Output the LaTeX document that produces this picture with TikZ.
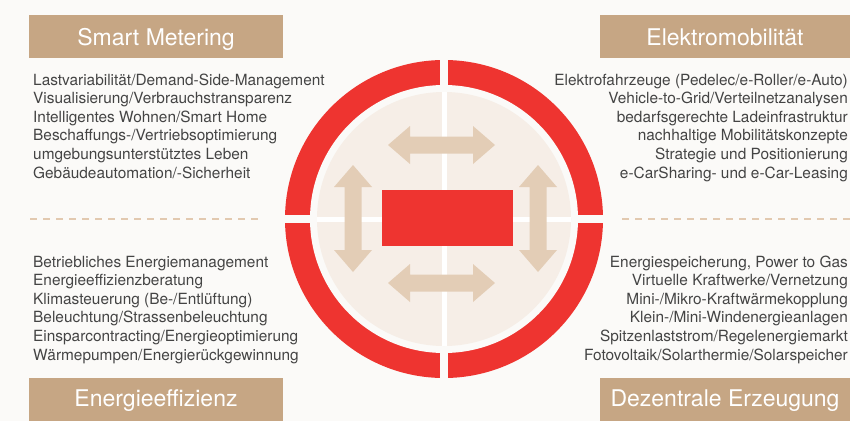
\documentclass[tikz,border=0pt]{standalone}
\usepackage{fontspec}
\setmainfont{TeX Gyre Heros}
\definecolor{bg}{HTML}{FBFAF8}
\definecolor{ringred}{HTML}{EE3430}
\definecolor{boxtan}{HTML}{C6A684}
\definecolor{arrowtan}{HTML}{E3CDB6}
\definecolor{disc}{HTML}{F6EEE7}
\definecolor{txt}{HTML}{444444}
\definecolor{dashtan}{HTML}{E2C9B0}
\begin{document}
\begin{tikzpicture}[x=1pt,y=-1pt,
  hdrbox/.style={fill=boxtan, draw=none},
  hdrtext/.style={text=white, font=\fontsize{23}{27}\selectfont, inner sep=0pt, anchor=base},
  bodyl/.style={text=txt, font=\fontsize{15.4}{18.6}\selectfont, inner sep=0pt, anchor=base west},
  bodyr/.style={text=txt, font=\fontsize{15.4}{18.6}\selectfont, inner sep=0pt, anchor=base east},
  sep/.style={draw=dashtan, line width=1.2pt, dash pattern=on 7pt off 6pt},
  dblarrow/.pic={\fill[arrowtan] (-53.5,0) -- (-31.5,-19) -- (-31.5,-8.5) -- (31.5,-8.5) -- (31.5,-19) -- (53.5,0) -- (31.5,19) -- (31.5,8.5) -- (-31.5,8.5) -- (-31.5,19) -- cycle;}
]
\useasboundingbox (0,0) rectangle (850,421);
\fill[bg] (0,0) rectangle (850,421);

% header boxes
\fill[hdrbox] (29,15) rectangle (283,58);
\fill[hdrbox] (600,15) rectangle (850,58);
\fill[hdrbox] (29,378) rectangle (283,421);
\fill[hdrbox] (600,378) rectangle (850,421);
\node[hdrtext] (hsm) at (156,45) {Smart Metering};
\node[hdrtext] (hem) at (725,45) {Elektromobilität};
\node[hdrtext] (hee) at (156,406) {Energieeffizienz};
\node[hdrtext] (hde) at (725,406) {Dezentrale Erzeugung};

% dashed separators
\draw[sep] (30,219) -- (260,219);
\draw[sep] (622,219) -- (850,219);

% text lists
\foreach \t [count=\i] in {{Lastvariabilität/Demand-Side-Management},{Visualisierung/Verbrauchstransparenz},{Intelligentes Wohnen/Smart Home},{Beschaffungs-/Vertriebsoptimierung},{umgebungsunterstütztes Leben},{Gebäudeautomation/-Sicherheit}}
  \node[bodyl] (tl\i) at (33,{85+(\i-1)*18.6}) {\t};
\foreach \t [count=\i] in {{Elektrofahrzeuge (Pedelec/e-Roller/e-Auto)},{Vehicle-to-Grid/Verteilnetzanalysen},{bedarfsgerechte Ladeinfrastruktur},{nachhaltige Mobilitätskonzepte},{Strategie und Positionierung},{e-CarSharing- und e-Car-Leasing}}
  \node[bodyr] (tr\i) at (848,{85+(\i-1)*18.6}) {\t};
\foreach \t [count=\i] in {{Betriebliches Energiemanagement},{Energieeffizienzberatung},{Klimasteuerung (Be-/Entlüftung)},{Beleuchtung/Strassenbeleuchtung},{Einsparcontracting/Energieoptimierung},{Wärmepumpen/Energierückgewinnung}}
  \node[bodyl] (bl\i) at (33,{267+(\i-1)*18.6}) {\t};
\foreach \t [count=\i] in {{Energiespeicherung, Power to Gas},{Virtuelle Kraftwerke/Vernetzung},{Mini-/Mikro-Kraftwärmekopplung},{Klein-/Mini-Windenergieanlagen},{Spitzenlaststrom/Regelenergiemarkt},{Fotovoltaik/Solarthermie/Solarspeicher}}
  \node[bodyr] (br\i) at (848,{267+(\i-1)*18.6}) {\t};

% circle
\coordinate (c) at (444,219);
\fill[ringred] (c) circle[radius=159pt];
\fill[bg] (c) circle[radius=134pt];
\draw[bg, line width=8pt] (444,56) -- (444,382);
\draw[bg, line width=8pt] (281,219) -- (607,219);
\fill[disc] (c) circle[radius=127pt];
\draw[white, line width=5pt] (444,92) -- (444,346);
\draw[white, line width=5pt] (317,219) -- (571,219);

% arrows
\pic at (441.5,145) {dblarrow};
\pic at (441.5,283) {dblarrow};
\pic[rotate=90] at (353,218.5) {dblarrow};
\pic[rotate=90] at (538,218.5) {dblarrow};

% center rectangle
\node[fill=ringred, minimum width=131pt, minimum height=56pt, inner sep=0pt] (core) at (447.5,218) {};
\end{tikzpicture}
\end{document}
